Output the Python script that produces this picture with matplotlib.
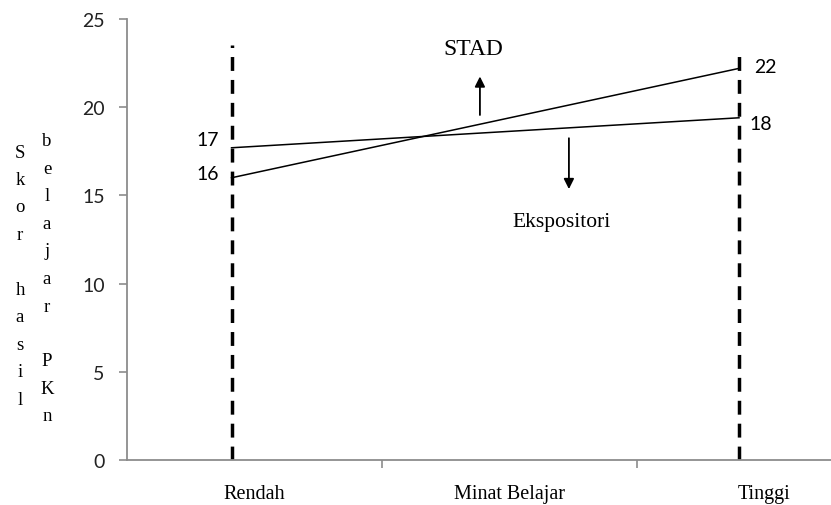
import matplotlib
matplotlib.use("Agg")
import matplotlib.pyplot as plt

# ---- data ----
categories = ["Rendah", "Minat Belajar", "Tinggi"]
group_x = [0.41, 2.40]            # positions of Rendah / Tinggi guide lines
stad = [16.0, 22.2]
ekspositori = [17.7, 19.4]
stad_labels = ["16", "22"]
eksp_labels = ["17", "18"]
y_ticks = [0, 5, 10, 15, 20, 25]
ylabel_col1 = "Skor hasil"
ylabel_col2 = "belajar PKn"

W, H = 831, 506
fig = plt.figure(figsize=(W / 100, H / 100), dpi=100)
left, right, bottom, top = 127, 831, 461, 20
ax = fig.add_axes([left / W, 1 - bottom / H, (right - left) / W, (bottom - top) / H])

ax.set_ylim(0, 25)
ax.set_xlim(0, (right - left) / 255.0)

gray = "#8c8c8c"
for s in ["top", "right"]:
    ax.spines[s].set_visible(False)
for s in ["left", "bottom"]:
    ax.spines[s].set_color(gray)
    ax.spines[s].set_linewidth(1.3)

sans = ["Lato", "DejaVu Sans"]
serif = ["Liberation Serif", "DejaVu Serif"]

ax.set_yticks(y_ticks)
ax.set_yticklabels([str(v) for v in y_ticks], fontfamily=sans, fontsize=14, color="#222222")
ax.tick_params(axis="y", direction="out", length=6, width=1.2, color=gray, pad=10)

ax.set_xticks([0.5, 1.5, 2.5])
ax.set_xticklabels(categories, fontfamily=serif, fontsize=14.5)
ax.set_xticks([1, 2], minor=True)
ax.tick_params(axis="x", which="major", length=0, pad=17)
ax.tick_params(axis="x", which="minor", direction="out", length=6, width=1.2, color=gray)

# dashed guide lines
ax.plot([group_x[0], group_x[0]], [0, 23.5], color="black", lw=2.5, ls=(0, (4, 2.6)))
ax.plot([group_x[1], group_x[1]], [0, 23.3], color="black", lw=2.5, ls=(0, (4, 2.6)))

# series lines
ax.plot(group_x, stad, color="black", lw=1.1)
ax.plot(group_x, ekspositori, color="black", lw=1.1)

# value labels
ax.text(group_x[0] - 0.05, ekspositori[0] + 0.45, eksp_labels[0], ha="right", va="center",
        fontfamily=sans, fontsize=14)
ax.text(group_x[0] - 0.05, stad[0] + 0.25, stad_labels[0], ha="right", va="center",
        fontfamily=sans, fontsize=14)
ax.text(group_x[1] + 0.06, stad[1] + 0.1, stad_labels[1], ha="left", va="center",
        fontfamily=sans, fontsize=14)
ax.text(group_x[1] + 0.04, ekspositori[1] - 0.35, eksp_labels[1], ha="left", va="center",
        fontfamily=sans, fontsize=14)

# series annotations with arrows
ax.annotate("", xy=(1.384, 21.9), xytext=(1.384, 19.4),
            arrowprops=dict(arrowstyle="-|>", color="black", lw=1.3, mutation_scale=15))
ax.annotate("", xy=(1.733, 15.2), xytext=(1.733, 18.4),
            arrowprops=dict(arrowstyle="-|>", color="black", lw=1.3, mutation_scale=15))
ax.text(1.36, 23.35, "STAD", ha="center", va="center", fontfamily=serif, fontsize=17)
ax.text(1.706, 13.5, "Ekspositori", ha="center", va="center", fontfamily=serif, fontsize=15.5)

# vertical stacked y label (two columns)
step = 27.5
for i, ch in enumerate(ylabel_col1):
    if ch != " ":
        fig.text(20 / W, 1 - (153 + i * step) / H, ch, ha="center", va="center",
                 fontfamily=serif, fontsize=13.5)
for i, ch in enumerate(ylabel_col2):
    if ch != " ":
        fig.text(47 / W, 1 - (142 + i * step) / H, ch, ha="center", va="center",
                 fontfamily=serif, fontsize=13.5)

fig.savefig("out.png", dpi=100)
